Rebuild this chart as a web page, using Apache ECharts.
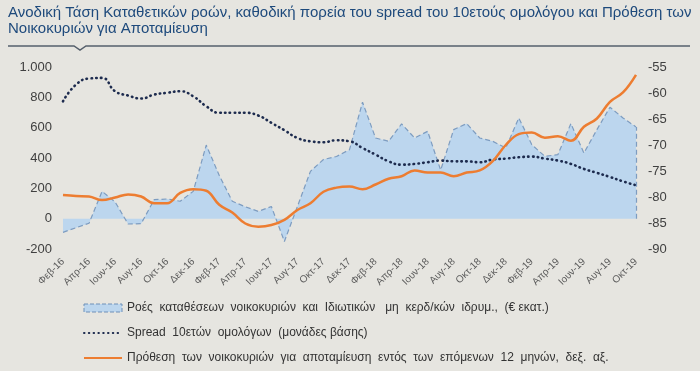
<!DOCTYPE html>
<html>
<head>
<meta charset="utf-8">
<script src="https://cdn.jsdelivr.net/npm/echarts@6/dist/echarts.min.js"></script>
<style>
html,body{margin:0;padding:0;background:#e6e5e0;}
#c{width:700px;height:371px;}
</style>
</head>
<body>
<div id="c"></div>
<script>
var categories = ['Φεβ-16','Μαρ-16','Απρ-16','Μαϊ-16','Ιουν-16','Ιουλ-16','Αυγ-16','Σεπ-16','Οκτ-16','Νοε-16','Δεκ-16','Ιαν-17',
  'Φεβ-17','Μαρ-17','Απρ-17','Μαϊ-17','Ιουν-17','Ιουλ-17','Αυγ-17','Σεπ-17','Οκτ-17','Νοε-17','Δεκ-17','Ιαν-18',
  'Φεβ-18','Μαρ-18','Απρ-18','Μαϊ-18','Ιουν-18','Ιουλ-18','Αυγ-18','Σεπ-18','Οκτ-18','Νοε-18','Δεκ-18','Ιαν-19',
  'Φεβ-19','Μαρ-19','Απρ-19','Μαϊ-19','Ιουν-19','Ιουλ-19','Αυγ-19','Σεπ-19','Οκτ-19'];

var depositFlows = [-90,-60,-30,180,110,-35,-33,125,130,115,180,485,
  285,115,78,48,80,-150,80,312,390,410,455,768,
  532,510,625,532,576,320,587,627,532,510,466,664,
  488,411,422,627,433,587,735,664,605];

var spread10y = [774,884,924,928,840,812,792,818,830,840,807,741,
  698,698,698,680,632,583,532,510,504,517,510,466,
  422,378,356,361,372,383,378,378,372,390,396,405,
  409,396,383,361,328,302,275,246,220];

var savingIntention = [-79.6,-79.8,-79.9,-80.6,-80.1,-79.5,-79.9,-81.2,-81.2,-79.2,-78.5,-78.8,
  -81.5,-83.0,-85.1,-85.7,-85.4,-84.4,-82.5,-81.2,-79.0,-78.2,-78.0,-78.5,
  -77.6,-76.5,-76.0,-74.9,-75.3,-75.3,-76.0,-75.3,-74.9,-73.1,-70.0,-67.9,
  -67.6,-68.6,-68.3,-69.2,-66.5,-64.9,-61.7,-59.9,-56.5];

var titleText = 'Ανοδική Τάση Καταθετικών ροών, καθοδική πορεία του spread του 10ετούς ομολόγου και Πρόθεση των\nΝοικοκυριών για Αποταμίευση';
var nameFlows = 'Ροές  καταθέσεων  νοικοκυριών  και  Ιδιωτικών   μη  κερδ/κών  ιδρυμ.,  (€ εκατ.)';
var nameSpread = 'Spread  10ετών  ομολόγων  (μονάδες βάσης)';
var nameIntent = 'Πρόθεση  των  νοικοκυριών  για  αποταμίευση  εντός  των  επόμενων  12  μηνών,  δεξ.  αξ.';

var chart = echarts.init(document.getElementById('c'), null, {renderer:'canvas'});
var fontFam = '"Liberation Sans", Arial, sans-serif';
var lastCat = categories[categories.length-1];
var lastFlow = depositFlows[depositFlows.length-1];

chart.setOption({
  backgroundColor:'#e6e5e0',
  animation:false,
  textStyle:{fontFamily:fontFam},
  title:{
    text:titleText,
    left:8, top:5, padding:0,
    textStyle:{color:'#1e4a7c', fontSize:15, fontWeight:'normal', lineHeight:16, fontFamily:fontFam}
  },
  graphic:[{
    type:'polyline',
    shape:{points:[[8,46],[74,46],[80,50],[86,46],[690,46]]},
    style:{stroke:'#56606c', lineWidth:1.5, fill:null}
  }],
  legend:{
    orient:'vertical', left:83, top:301, padding:0,
    itemWidth:38, itemHeight:8, itemGap:11,
    textStyle:{color:'#333', fontSize:12, lineHeight:14, fontFamily:fontFam},
    data:[
      {name:nameFlows, icon:'rect', itemStyle:{color:'#bcd6ee', borderColor:'#6f90b8', borderWidth:1, borderType:'dashed'}},
      {name:nameSpread, itemStyle:{opacity:0}},
      {name:nameIntent, itemStyle:{opacity:0}}
    ]
  },
  grid:{left:63, right:64, top:67, bottom:122, containLabel:false},
  xAxis:{
    type:'category', data:categories, boundaryGap:false,
    axisLine:{show:false, onZero:false}, axisTick:{show:false},
    axisLabel:{interval:1, rotate:45, color:'#5a5a5a', fontSize:10, margin:11, fontFamily:fontFam},
    splitLine:{show:false}
  },
  yAxis:[{
    type:'value', min:-200, max:1000, interval:200, position:'left',
    axisLine:{show:false}, axisTick:{show:false}, splitLine:{show:false},
    axisLabel:{color:'#404040', fontSize:13, margin:11, fontFamily:fontFam,
      formatter:function(v){ return v>=1000 ? String(v).replace(/(\d)(?=(\d{3})+$)/,'$1.') : String(v); }}
  },{
    type:'value', min:-90, max:-55, interval:5, position:'right',
    axisLine:{show:false}, axisTick:{show:false}, splitLine:{show:false},
    axisLabel:{color:'#404040', fontSize:13, margin:12, fontFamily:fontFam}
  }],
  series:[{
    name:nameFlows, type:'line', data:depositFlows, yAxisIndex:0,
    symbol:'none', smooth:false,
    lineStyle:{color:'#7d9cc0', width:1.2, type:[5,3]},
    itemStyle:{color:'#bcd6ee'},
    areaStyle:{color:'#bcd6ee', opacity:1},
    markLine:{
      symbol:'none', silent:true, label:{show:false},
      lineStyle:{color:'#7d9cc0', width:1.2, type:[5,3]},
      data:[[{coord:[lastCat,0]},{coord:[lastCat,lastFlow]}]]
    },
    z:1
  },{
    name:nameSpread, type:'line', data:spread10y, yAxisIndex:0,
    symbol:'none', smooth:0.5,
    lineStyle:{color:'#1d2b4e', width:2.6, type:[0.5,4.3], cap:'round'},
    itemStyle:{color:'#1d2b4e'},
    z:3
  },{
    name:nameIntent, type:'line', data:savingIntention, yAxisIndex:1,
    symbol:'none', smooth:0.4,
    lineStyle:{color:'#ed7d31', width:2.5},
    itemStyle:{color:'#ed7d31'},
    z:4
  }]
});
</script>
</body>
</html>
